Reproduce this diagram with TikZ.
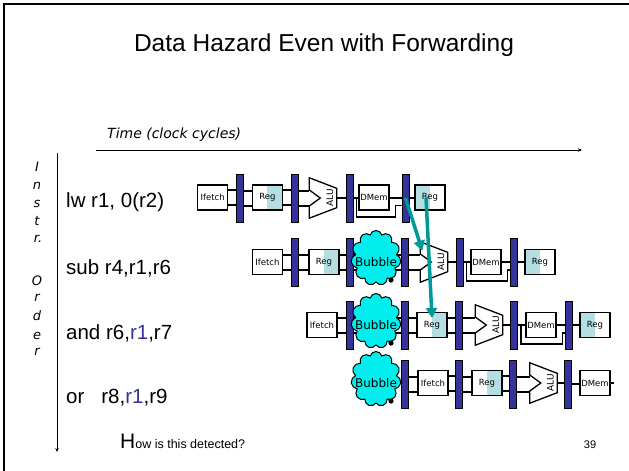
\documentclass[tikz,border=0pt]{standalone}
\usepackage{fontspec}
\setmainfont{Liberation Sans}
\newfontfamily\comicfont{DejaVu Sans}
\usetikzlibrary{shapes.symbols,arrows.meta,calc}
\definecolor{barblue}{RGB}{51,51,153}
\definecolor{regshade}{RGB}{180,222,226}
\definecolor{bubblecyan}{RGB}{0,238,238}
\definecolor{fwdteal}{RGB}{0,153,153}
\definecolor{srcblue}{RGB}{51,51,153}
\pgfdeclarelayer{bg}
\pgfsetlayers{bg,main}
% two parallel wires from the right side of #1 to the left side of #2
\newcommand\dwire[2]{%
  \draw[wire] ([yshift=7.5pt]#1.east) -- ([yshift=7.5pt]#1.east -| #2.west);
  \draw[wire] ([yshift=-7.5pt]#1.east) -- ([yshift=-7.5pt]#1.east -| #2.west);}
% one wire at mid height
\newcommand\swire[2]{\draw[wire] (#1.east) -- (#1.east -| #2.west);}
% path around the data memory: #1 bar before, #2 memory, #3 bar after
\newcommand\bypass[3]{%
  \draw[line width=1.4pt] ([xshift=3pt]#1.east) -- ++(0,19)
    -| ([xshift=6pt,yshift=-8pt]#2.east) -- ([yshift=-8pt]#2.east -| #3.west);}
% ALU outline drawn over an invisible frame node #1
\newcommand\aluoutline[1]{%
  \draw[line width=1.3pt, fill=white] (#1.north west) -- ([yshift=-10.5pt]#1.north east)
    -- ([yshift=10.5pt]#1.south east) -- (#1.south west) -- ([yshift=-8pt]#1.west)
    -- ([xshift=11pt]#1.west) -- ([yshift=8pt]#1.west) -- cycle;
  \node[rotate=90, font=\comicfont\fontsize{9}{9}\selectfont, inner sep=0pt]
    (#1txt) at ([xshift=7pt]#1.center) {ALU};}
% stall bubble: cloud #1 at #2, its word and its small tail dot
\newcommand\stall[2]{%
  \node[bubble] (#1) at #2 {};
  \node[bubtext] (#1txt) at ([yshift=-4pt]#1.center) {Bubble};
  \fill ([shift={(15,22)}]#1.center) circle (2.6pt);}
\begin{document}
\begin{tikzpicture}[x=1pt,y=-1pt,
  wire/.style={line width=2pt},
  unit/.style={draw, line width=1.3pt, fill=white, minimum width=30pt,
    minimum height=25pt, inner sep=0pt, font=\comicfont\fontsize{8.5}{8.5}\selectfont},
  regR/.style={unit, path picture={\fill[regshade] (path picture bounding box.north)
    rectangle (path picture bounding box.south east);}},
  regL/.style={unit, path picture={\fill[regshade] (path picture bounding box.north west)
    rectangle (path picture bounding box.south);}},
  pbar/.style={draw, line width=0.8pt, fill=barblue, minimum width=7pt,
    minimum height=48pt, inner sep=0pt},
  alubody/.style={minimum width=27pt, minimum height=40pt, inner sep=0pt},
  bubble/.style={cloud, cloud puffs=11, cloud ignores aspect, draw,
    line width=1pt, fill=bubblecyan, minimum width=50pt, minimum height=55pt,
    inner sep=0pt},
  bubtext/.style={inner sep=0pt, font=\comicfont\fontsize{12}{12}\selectfont},
  instr/.style={anchor=base west, inner sep=0pt, font=\fontsize{20.5}{24}\selectfont},
  vlet/.style={inner sep=0pt, font=\comicfont\itshape\fontsize{13}{13}\selectfont},
  fwd/.style={fwdteal, line width=3.5pt, -{Triangle[length=10pt,width=11pt]}},
]
\useasboundingbox (0,0) rectangle (629,471);

% slide frame
\draw[line width=2.5pt] (4,471) -- (4,4) -- (629,4);

% title
\node[font=\fontsize{24.5}{28}\selectfont] (title) at (324,45) {Data Hazard Even with Forwarding};

% time axis
\node[anchor=west, inner sep=0pt, font=\comicfont\itshape\fontsize{14}{14}\selectfont]
  (timelbl) at (107,135) {Time (clock cycles)};
\coordinate (t0) at (96,150);
\coordinate (t1) at (582,150);
\draw[line width=0.8pt, -{Stealth[length=4pt,width=3.5pt]}] (t0) -- (t1);

% instruction order axis
\coordinate (o0) at (57,153);
\coordinate (o1) at (57,452);
\draw[line width=0.8pt, -{Stealth[length=4pt,width=3.5pt]}] (o0) -- (o1);
\node[vlet] (v1) at (37,167) {I};
\node[vlet] (v2) at (37,186) {n};
\node[vlet] (v3) at (37,204) {s};
\node[vlet] (v4) at (37,221) {t};
\node[vlet] (v5) at (38,239) {r.};
\node[vlet] (v6) at (37,281) {O};
\node[vlet] (v7) at (37,298) {r};
\node[vlet] (v8) at (37,316) {d};
\node[vlet] (v9) at (37,336) {e};
\node[vlet] (v10) at (37,352) {r};

% instructions
\node[instr] (i1) at (66,207) {lw r1, 0(r2)};
\node[instr] (i2) at (66,274) {sub r4,r1,r6};
\node[instr] (i3) at (66,339) {and r6,\textcolor{srcblue}{r1},r7};
\node[instr] (i4) at (66,403) {or\hspace{17pt}r8,\textcolor{srcblue}{r1},r9};

% ---------------- row 1: lw
\node[unit] (r1if) at (212.6,197.5) {Ifetch};
\node[pbar] (r1b0) at (240,198) {};
\node[regR] (r1rg) at (267.4,197.5) {Reg};
\node[pbar] (r1b1) at (294.8,198) {};
\node[alubody] (r1alu) at (323,198) {};
\node[pbar] (r1b2) at (349.6,198) {};
\node[unit] (r1dm) at (374,197.5) {DMem};
\node[pbar] (r1b3) at (405.5,198) {};
\node[regL] (r1wb) at (430,197.5) {Reg};
\aluoutline{r1alu}

% ---------------- row 2: sub
\node[unit] (r2if) at (267.4,262) {Ifetch};
\node[pbar] (r2b1) at (294.8,262) {};
\node[regR] (r2rg) at (324,262) {Reg};
\node[pbar] (r2b2) at (349.6,262) {};
\node[pbar] (r2b3) at (404.4,262) {};
\node[alubody] (r2alu) at (434,262) {};
\node[pbar] (r2b4) at (459.8,262) {};
\node[unit] (r2dm) at (486,262) {DMem};
\node[pbar] (r2b5) at (514,262) {};
\node[regL] (r2wb) at (540,262) {Reg};
\aluoutline{r2alu}
\stall{r2bub}{(376,258)}

% ---------------- row 3: and
\node[unit] (r3if) at (322,325) {Ifetch};
\node[pbar] (r3b2) at (349.6,325) {};
\node[pbar] (r3b3) at (404.4,325) {};
\node[regR] (r3rg) at (432,325) {Reg};
\node[pbar] (r3b4) at (458.5,325) {};
\node[alubody] (r3alu) at (489,325) {};
\node[pbar] (r3b5) at (514,325) {};
\node[unit] (r3dm) at (541,325) {DMem};
\node[pbar] (r3b6) at (569,325) {};
\node[regL] (r3wb) at (595,325) {Reg};
\aluoutline{r3alu}
\stall{r3bub}{(376,321)}

% ---------------- row 4: or
\node[pbar] (r4b3) at (404.4,384) {};
\node[unit] (r4if) at (433,383) {Ifetch};
\node[pbar] (r4b4) at (459.2,384) {};
\node[regR] (r4rg) at (487,383) {Reg};
\node[pbar] (r4b5) at (512.5,384) {};
\node[alubody] (r4alu) at (543.5,383) {};
\node[pbar] (r4b6) at (568,384) {};
\node[unit] (r4dm) at (595,383) {DMem};
\aluoutline{r4alu}
\stall{r4bub}{(376,379)}
\coordinate (r4out) at ([xshift=3pt]r4dm.east);

% wiring between stages
\begin{pgfonlayer}{bg}
  \dwire{r1if}{r1b0} \dwire{r1b0}{r1rg} \dwire{r1rg}{r1b1} \dwire{r1b1}{r1alu}
  \swire{r1alu}{r1b2} \swire{r1b2}{r1dm} \swire{r1dm}{r1b3} \swire{r1b3}{r1wb}
  \bypass{r1b2}{r1dm}{r1b3}

  \dwire{r2if}{r2b1} \dwire{r2b1}{r2rg} \dwire{r2rg}{r2b2} \dwire{r2b2}{r2b3}
  \dwire{r2b3}{r2alu} \swire{r2alu}{r2b4} \swire{r2b4}{r2dm} \swire{r2dm}{r2b5}
  \swire{r2b5}{r2wb}
  \bypass{r2b4}{r2dm}{r2b5}

  \dwire{r3if}{r3b2} \dwire{r3b2}{r3b3} \dwire{r3b3}{r3rg} \dwire{r3rg}{r3b4}
  \dwire{r3b4}{r3alu} \swire{r3alu}{r3b5} \swire{r3b5}{r3dm} \swire{r3dm}{r3b6}
  \swire{r3b6}{r3wb}
  \bypass{r3b5}{r3dm}{r3b6}

  \dwire{r4bub}{r4b3} \dwire{r4b3}{r4if} \dwire{r4if}{r4b4} \dwire{r4b4}{r4rg}
  \dwire{r4rg}{r4b5} \dwire{r4b5}{r4alu} \swire{r4alu}{r4b6} \swire{r4b6}{r4dm}
  \draw[wire] (r4dm.east) -- (r4out);
\end{pgfonlayer}

% forwarding paths
\draw[fwd] (r1b3.center) -- ([shift={(2,9)}]r2alu.north west);
\draw[fwd] ([xshift=-4pt]r1wb.center) -- ([yshift=7pt]r3rg.center);

% footer
\node[anchor=base west, inner sep=0pt] (ask) at (120,448)
  {\fontsize{21}{24}\selectfont H\fontsize{12.5}{14}\selectfont ow is this detected?};
\node[font=\fontsize{11}{12}\selectfont] (pgno) at (590,445) {39};
\end{tikzpicture}
\end{document}
